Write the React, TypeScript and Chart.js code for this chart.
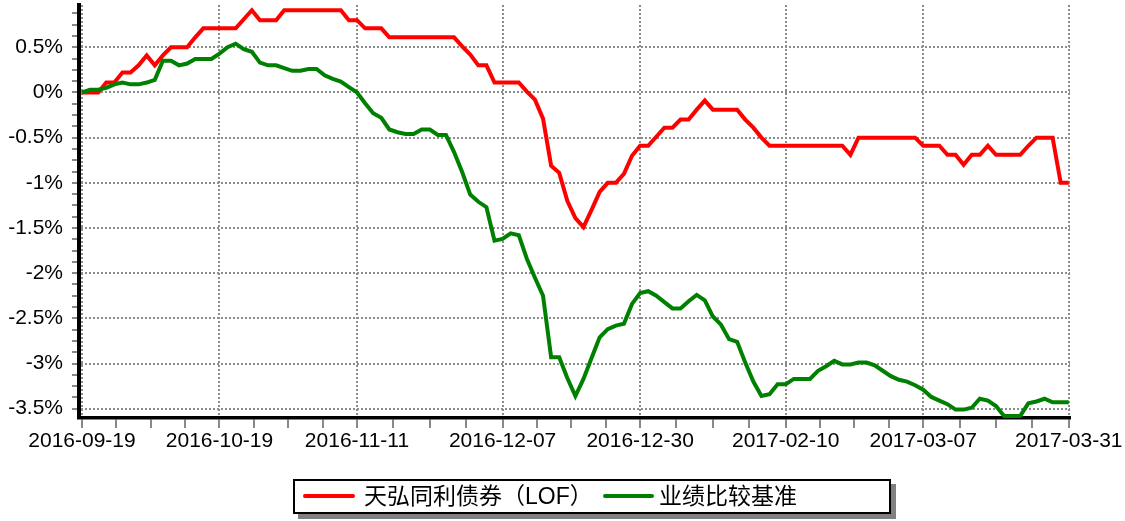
import React, { useEffect, useRef } from 'react';
import { Chart, registerables } from 'chart.js';

Chart.register(...registerables);

const seriesNames = ['天弘同利债券（LOF）', '业绩比较基准'];
const seriesColors = ['#ff0000', '#008000'];

const fundValues = [
  0, 0, 0, 0.11, 0.11, 0.22, 0.22, 0.3, 0.41, 0.3,
  0.41, 0.5, 0.5, 0.5, 0.61, 0.71, 0.71, 0.71, 0.71, 0.71,
  0.81, 0.91, 0.8, 0.8, 0.8, 0.91, 0.91, 0.91, 0.91, 0.91,
  0.91, 0.91, 0.91, 0.8, 0.8, 0.71, 0.71, 0.71, 0.61, 0.61,
  0.61, 0.61, 0.61, 0.61, 0.61, 0.61, 0.61, 0.51, 0.42, 0.3,
  0.3, 0.11, 0.11, 0.11, 0.11, 0.01, -0.08, -0.29, -0.81, -0.89,
  -1.2, -1.39, -1.49, -1.3, -1.1, -1.0, -1.0, -0.9, -0.7, -0.59,
  -0.59, -0.49, -0.39, -0.39, -0.3, -0.3, -0.19, -0.09, -0.19, -0.19,
  -0.19, -0.19, -0.3, -0.39, -0.5, -0.59, -0.59, -0.59, -0.59, -0.59,
  -0.59, -0.59, -0.59, -0.59, -0.59, -0.69, -0.5, -0.5, -0.5, -0.5,
  -0.5, -0.5, -0.5, -0.5, -0.59, -0.59, -0.59, -0.69, -0.69, -0.8,
  -0.69, -0.69, -0.59, -0.69, -0.69, -0.69, -0.69, -0.59, -0.5, -0.5,
  -0.5, -1.0, -1.0,
];

const benchValues = [
  0, 0.03, 0.03, 0.05, 0.09, 0.11, 0.09, 0.09, 0.11, 0.14,
  0.35, 0.35, 0.3, 0.32, 0.37, 0.37, 0.37, 0.43, 0.5, 0.54,
  0.48, 0.45, 0.33, 0.3, 0.3, 0.27, 0.24, 0.24, 0.26, 0.26,
  0.19, 0.15, 0.12, 0.06, 0, -0.12, -0.23, -0.28, -0.41, -0.44,
  -0.46, -0.46, -0.41, -0.41, -0.47, -0.47, -0.66, -0.88, -1.13, -1.21,
  -1.27, -1.64, -1.62, -1.56, -1.58, -1.84, -2.05, -2.25, -2.93, -2.93,
  -3.16, -3.36, -3.17, -2.94, -2.71, -2.62, -2.58, -2.56, -2.34, -2.22,
  -2.2, -2.25, -2.32, -2.39, -2.39, -2.31, -2.24, -2.3, -2.48, -2.57,
  -2.73, -2.76, -2.99, -3.2, -3.36, -3.34, -3.23, -3.23, -3.17, -3.17,
  -3.17, -3.08, -3.03, -2.97, -3.01, -3.01, -2.99, -2.99, -3.02, -3.08,
  -3.14, -3.18, -3.2, -3.24, -3.29, -3.37, -3.41, -3.45, -3.51, -3.51,
  -3.49, -3.39, -3.41, -3.47, -3.58, -3.58, -3.58, -3.44, -3.42, -3.39,
  -3.43, -3.43, -3.43,
];

const xTickIndices = [0, 17, 34, 52, 69, 87, 104, 122];
const xTickLabels = [
  '2016-09-19', '2016-10-19', '2016-11-11', '2016-12-07',
  '2016-12-30', '2017-02-10', '2017-03-07', '2017-03-31',
];
const yLabelValues = [0.5, 0, -0.5, -1, -1.5, -2, -2.5, -3, -3.5];
const yLabelTexts = ['0.5%', '0%', '-0.5%', '-1%', '-1.5%', '-2%', '-2.5%', '-3%', '-3.5%'];

const Y_MIN = -3.603;
const Y_MAX = 0.968;

const FONT = '"Liberation Sans", Arial, "Noto Sans CJK SC", sans-serif';

function xMajorIndex(v: number) {
  return xTickIndices.findIndex((t) => Math.abs(t - v) < 1e-6);
}
function yMajorIndex(v: number) {
  return yLabelValues.findIndex((t) => Math.abs(t - v) < 1e-6);
}

export default function App() {
  const canvasRef = useRef<HTMLCanvasElement | null>(null);

  useEffect(() => {
    const canvas = canvasRef.current;
    if (!canvas) return;
    const gridColor = '#8c8c8c';
    const chart = new Chart(canvas, {
      type: 'line',
      data: {
        datasets: [
          {
            label: seriesNames[0],
            data: fundValues.map((v, i) => ({ x: i, y: v })),
            borderColor: seriesColors[0],
            backgroundColor: seriesColors[0],
            borderWidth: 4,
            pointRadius: 0,
            tension: 0,
            fill: false,
            order: 2,
          },
          {
            label: seriesNames[1],
            data: benchValues.map((v, i) => ({ x: i, y: v })),
            borderColor: seriesColors[1],
            backgroundColor: seriesColors[1],
            borderWidth: 4,
            pointRadius: 0,
            tension: 0,
            fill: false,
            order: 1,
          },
        ],
      },
      options: {
        responsive: false,
        animation: false,
        events: [],
        layout: { padding: { left: 0, top: 5, right: 55, bottom: 61 } },
        plugins: {
          legend: { display: false },
          tooltip: { enabled: false },
          title: { display: false },
        },
        scales: {
          x: {
            type: 'linear',
            min: -0.37,
            max: 122.15,
            afterBuildTicks: (scale: any) => {
              const vals: number[] = [];
              for (let k = 0; k < xTickIndices.length; k++) {
                vals.push(xTickIndices[k]);
                if (k < xTickIndices.length - 1) {
                  const a = xTickIndices[k];
                  const b = xTickIndices[k + 1];
                  for (let q = 1; q < 4; q++) vals.push(a + ((b - a) * q) / 4);
                }
              }
              scale.ticks = vals.map((v) => ({ value: v }));
            },
            afterFit: (scale: any) => {
              scale.height = 42;
              scale.paddingLeft = 0;
              scale.paddingRight = 0;
            },
            ticks: {
              autoSkip: false,
              maxRotation: 0,
              minRotation: 0,
              padding: 1,
              color: '#000',
              font: { family: FONT, size: 21 },
              callback: (value: any) => {
                const k = xMajorIndex(Number(value));
                return k >= 0 ? xTickLabels[k] : '';
              },
            },
            grid: {
              color: (ctx: any) =>
                ctx.tick && xMajorIndex(ctx.tick.value) >= 0 ? gridColor : 'rgba(0,0,0,0)',
              lineWidth: 2,
              drawTicks: true,
              tickLength: 10,
              tickColor: '#888888',
              tickWidth: 2,
              tickBorderDash: [],
            },
            border: { display: true, color: '#000', width: 3.5, dash: [2, 2] },
          },
          y: {
            type: 'linear',
            min: Y_MIN,
            max: Y_MAX,
            afterBuildTicks: (scale: any) => {
              const vals: number[] = [];
              for (let k = -28; k <= 7; k++) vals.push(k * 0.125);
              scale.ticks = vals.map((v) => ({ value: v }));
            },
            afterFit: (scale: any) => {
              scale.width = 79;
              scale.paddingTop = 0;
              scale.paddingBottom = 0;
            },
            ticks: {
              autoSkip: false,
              padding: 9,
              color: '#000',
              font: { family: FONT, size: 21 },
              callback: (value: any) => {
                const k = yMajorIndex(Number(value));
                return k >= 0 ? yLabelTexts[k] : '';
              },
            },
            grid: {
              color: (ctx: any) =>
                ctx.tick && yMajorIndex(ctx.tick.value) >= 0 ? gridColor : 'rgba(0,0,0,0)',
              lineWidth: 2,
              drawTicks: true,
              tickLength: 7,
              tickColor: '#888888',
              tickWidth: 2,
              tickBorderDash: [],
            },
            border: { display: true, color: '#000', width: 4, dash: [2, 2] },
          },
        },
      },
    } as any);
    return () => {
      chart.destroy();
    };
  }, []);

  const textStyle: React.CSSProperties = {
    position: 'absolute',
    top: 0,
    height: 31,
    lineHeight: '31px',
    fontSize: 23,
    fontFamily: FONT,
    color: '#000',
    whiteSpace: 'nowrap',
  };
  const lineStyle = (color: string, left: number, width: number): React.CSSProperties => ({
    position: 'absolute',
    left,
    top: 13,
    width,
    height: 4,
    background: color,
    borderRadius: 2,
  });

  return (
    <div
      style={{
        position: 'fixed',
        left: 0,
        top: 0,
        width: 1125,
        height: 521,
        background: '#fff',
        overflow: 'hidden',
      }}
    >
      <canvas
        ref={canvasRef}
        width={1125}
        height={521}
        style={{ position: 'absolute', left: 0, top: 0, width: 1125, height: 521, display: 'block' }}
      />
      <div
        style={{
          position: 'absolute',
          left: 293,
          top: 479,
          width: 598,
          height: 35,
          boxSizing: 'border-box',
          border: '2px solid #000',
          boxShadow: '5px 5px 0 #808080',
          background: '#fff',
        }}
      >
        <div style={lineStyle(seriesColors[0], 8, 52)} />
        <span style={{ ...textStyle, left: 69 }}>{seriesNames[0]}</span>
        <div style={lineStyle(seriesColors[1], 308, 51)} />
        <span style={{ ...textStyle, left: 364 }}>{seriesNames[1]}</span>
      </div>
    </div>
  );
}
